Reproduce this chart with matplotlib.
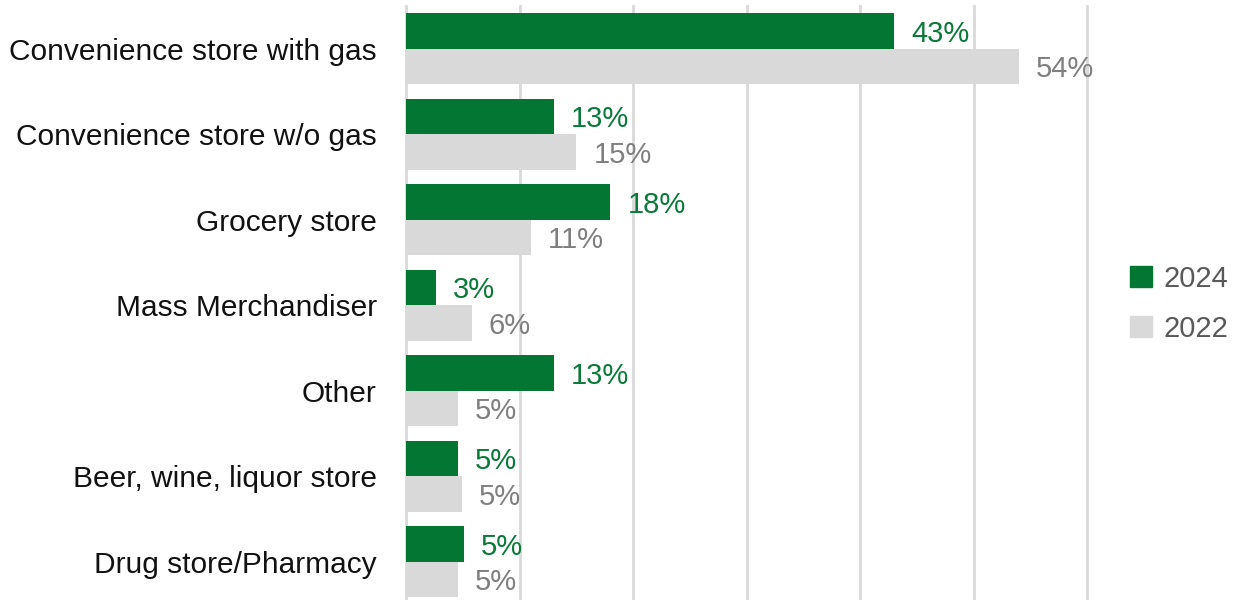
import numpy as np
import matplotlib.pyplot as plt
from matplotlib.patches import Patch

# 購入場所別の割合 (%)
categories = ['Convenience store with gas', 'Convenience store w/o gas', 'Grocery store',
              'Mass Merchandiser', 'Other', 'Beer, wine, liquor store', 'Drug store/Pharmacy']
share_2024 = [43, 13, 18, 2.6, 13, 4.6, 5.1]
share_2022 = [54, 15, 11, 5.8, 4.6, 4.9, 4.6]

green = '#037634'
grey = '#d9d9d9'

plt.rcParams['font.family'] = ['Liberation Sans', 'DejaVu Sans']

fig = plt.figure(figsize=(12.35, 6), dpi=100)
ax = fig.add_axes([406 / 1235, -4.5 / 600, (1087 - 406) / 1235, 598.5 / 600])

y = np.arange(len(categories))
h = 0.415
ax.barh(y - h / 2, share_2024, height=h, color=green, zorder=2)
ax.barh(y + h / 2, share_2022, height=h, color=grey, zorder=2)

# 数値ラベル
for yi, v in zip(y, share_2024):
    ax.text(v + 1.5, yi - h / 2 + 0.03, f'{v:.0f}%', va='center', ha='left',
            fontsize=21, color='#0a7a3a')
for yi, v in zip(y, share_2022):
    ax.text(v + 1.5, yi + h / 2 + 0.03, f'{v:.0f}%', va='center', ha='left',
            fontsize=21, color='#7f7f7f')

ax.set_xlim(0, 60)
ax.set_ylim(len(categories) - 0.5, -0.5)
ax.set_xticks(np.arange(0, 61, 10))
ax.xaxis.grid(True, color='#d9d9d9', linewidth=2)
for gl in ax.get_xgridlines():
    gl.set_clip_on(False)
ax.set_axisbelow(True)
ax.tick_params(axis='x', length=0, labelbottom=False)
ax.tick_params(axis='y', length=0, pad=21)
ax.set_yticks(y)
ax.set_yticklabels(categories, fontsize=21.5, color='#111111')
for s in ax.spines.values():
    s.set_visible(False)

handles = [Patch(color=green, label='2024'), Patch(color=grey, label='2022')]
fig.legend(handles=handles, loc='center left', bbox_to_anchor=(1130 / 1235, 0.494),
           frameon=False, fontsize=21, labelcolor='#595959', handlelength=0.75,
           handleheight=0.75, handletextpad=0.4, labelspacing=0.75,
           borderpad=0, borderaxespad=0)

fig.savefig('out.png', dpi=100)
